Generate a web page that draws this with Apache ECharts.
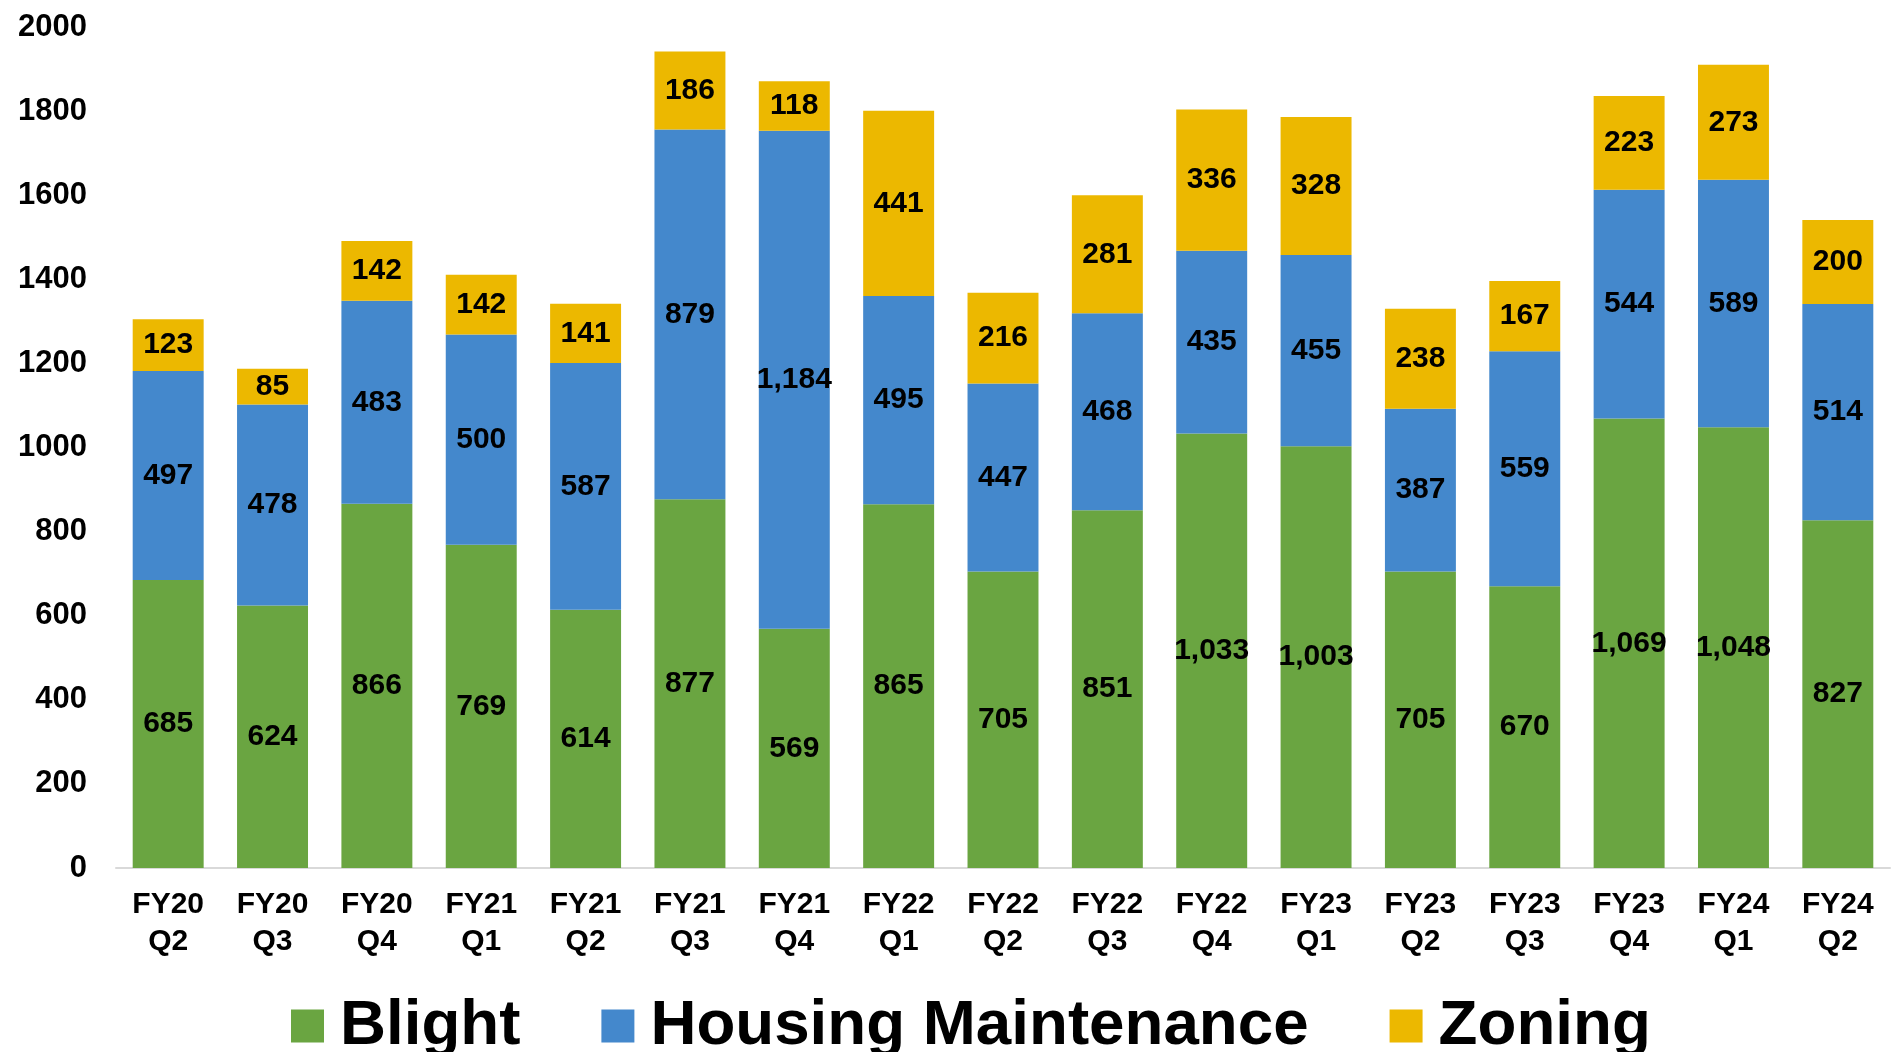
<!DOCTYPE html>
<html>
<head>
<meta charset="utf-8">
<script src="https://cdn.jsdelivr.net/npm/echarts@6/dist/echarts.min.js"></script>
<style>
html,body{margin:0;padding:0;background:#fff;}
#chart{width:1892px;height:1052px;}
</style>
</head>
<body>
<div id="chart"></div>
<script>
const categories = ["FY20\nQ2","FY20\nQ3","FY20\nQ4","FY21\nQ1","FY21\nQ2","FY21\nQ3","FY21\nQ4","FY22\nQ1","FY22\nQ2","FY22\nQ3","FY22\nQ4","FY23\nQ1","FY23\nQ2","FY23\nQ3","FY23\nQ4","FY24\nQ1","FY24\nQ2"];
const blight = [685,624,866,769,614,877,569,865,705,851,1033,1003,705,670,1069,1048,827];
const housingMaintenance = [497,478,483,500,587,879,1184,495,447,468,435,455,387,559,544,589,514];
const zoning = [123,85,142,142,141,186,118,441,216,281,336,328,238,167,223,273,200];
const seriesNames = ["Blight","Housing Maintenance","Zoning"];

const FONT = '"Liberation Sans", Arial, sans-serif';
const colors = ['#6AA541','#4488CC','#ECB800'];

const label = {
  show: true,
  position: 'inside',
  color: '#000',
  fontFamily: FONT,
  fontWeight: 'bold',
  fontSize: 30,
  formatter: p => p.value.toLocaleString('en-US')
};

function mk(name, data, color) {
  return {
    name, type: 'bar', stack: 'total', data,
    barCategoryGap: '32%',
    itemStyle: { color },
    label,
    emphasis: { disabled: true }
  };
}

const chart = echarts.init(document.getElementById('chart'));
chart.setOption({
  animation: false,
  color: colors,
  grid: { left: 116, right: 2, top: 27, bottom: 1052 - 868, containLabel: false },
  xAxis: {
    type: 'category',
    data: categories,
    axisLine: { lineStyle: { color: '#D9D9D9', width: 2 } },
    axisTick: { show: false },
    axisLabel: {
      color: '#000', fontFamily: FONT, fontWeight: 'bold', fontSize: 30,
      lineHeight: 37, margin: 18, interval: 0
    }
  },
  yAxis: {
    type: 'value', min: 0, max: 2000, interval: 200,
    splitLine: { show: false },
    axisLine: { show: false },
    axisTick: { show: false },
    axisLabel: {
      color: '#000', fontFamily: FONT, fontWeight: 'bold', fontSize: 31, margin: 29,
      formatter: v => String(v)
    }
  },
  legend: {
    data: seriesNames,
    left: 286, top: 986,
    itemWidth: 33, itemHeight: 33,
    itemGap: 81,
    icon: 'rect',
    textStyle: {
      color: '#000', fontFamily: FONT, fontWeight: 'bold', fontSize: 63.7,
      lineHeight: 70, padding: [0, 0, 0, 11]
    }
  },
  series: [
    mk(seriesNames[0], blight, colors[0]),
    mk(seriesNames[1], housingMaintenance, colors[1]),
    mk(seriesNames[2], zoning, colors[2])
  ]
});
</script>
</body>
</html>
